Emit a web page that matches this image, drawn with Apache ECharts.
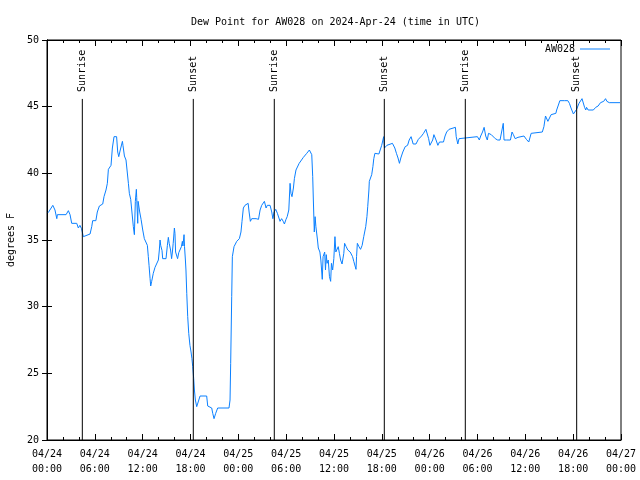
<!DOCTYPE html>
<html>
<head>
<meta charset="utf-8">
<script src="https://cdn.jsdelivr.net/npm/echarts@6/dist/echarts.min.js"></script>
<style>html,body{margin:0;padding:0;background:#fff}#c{width:640px;height:480px}</style>
</head>
<body>
<div id="c"></div>
<script>
// hours since 2024-04-24 00:00 UTC, dew point in degrees F
const dewPoint = [
[0.15,37.05],[0.73,37.6],[1.0,37.25],[1.23,36.6],[1.3,36.9],[2.39,36.9],[2.68,37.2],[2.89,36.9],[3.1,36.25],[3.73,36.25],[3.93,35.9],[4.13,36.1],[4.33,35.85],[4.56,35.25],[4.77,35.4],[5.4,35.45],[5.61,36.0],[5.73,36.45],[6.13,36.45],[6.31,37.1],[6.57,37.55],[6.99,37.7],[7.15,38.25],[7.4,38.75],[7.57,39.25],[7.7,40.3],[7.83,40.3],[8.03,40.6],[8.2,41.9],[8.41,42.75],[8.73,42.75],[8.87,41.6],[9.0,41.25],[9.13,41.6],[9.46,42.4],[9.53,42.1],[9.71,41.3],[9.91,41.0],[10.08,41.0],[10.21,39.25],[10.33,38.5],[10.5,38.05],[10.71,37.95],[10.83,36.0],[10.96,35.4],[11.08,37.9],[11.21,38.8],[11.25,38.2],[11.38,36.25],[11.43,37.9],[11.63,37.1],[11.8,36.55],[12.01,35.75],[12.21,35.1],[12.43,35.0],[12.59,34.6],[12.71,33.75],[12.8,33.1],[12.93,32.1],[13.01,31.55],[13.13,31.9],[13.33,32.5],[13.55,32.95],[13.73,33.0],[13.97,33.5],[14.09,34.25],[14.18,35.0],[14.26,34.6],[14.43,34.2],[14.51,33.6],[14.93,33.6],[15.1,34.6],[15.22,35.2],[15.33,34.75],[15.5,34.25],[15.63,33.6],[15.73,34.1],[15.83,34.75],[15.98,35.9],[16.05,35.5],[16.13,34.1],[16.23,34.0],[16.38,33.6],[16.53,34.05],[16.73,34.1],[16.86,34.5],[16.98,34.9],[17.05,34.55],[17.19,35.4],[17.25,34.5],[17.36,33.5],[17.43,32.75],[17.53,31.0],[17.65,29.25],[17.78,28.0],[17.93,27.1],[18.07,26.6],[18.18,26.1],[18.28,25.5],[18.4,24.6],[18.49,23.75],[18.61,23.0],[18.78,22.5],[18.99,22.5],[19.2,23.3],[19.41,23.35],[20.03,23.3],[20.16,22.55],[20.37,22.5],[20.66,22.4],[20.79,22.0],[20.95,21.6],[21.16,22.0],[21.41,22.4],[22.83,22.4],[22.96,23.0],[23.04,25.75],[23.17,30.75],[23.25,33.75],[23.46,34.5],[23.8,34.9],[24.13,35.1],
[24.33,35.6],[24.46,36.4],[24.63,37.4],[24.83,37.6],[25.0,37.5],[25.23,37.75],[25.35,37.1],[25.51,36.4],[25.68,36.6],[25.88,36.75],[26.23,36.6],[26.53,36.55],[26.73,37.25],[26.93,37.6],[27.27,37.9],[27.48,37.4],[27.63,37.6],[27.98,37.6],[28.19,37.1],[28.33,36.6],[28.48,37.1],[28.69,37.3],[28.9,37.0],[29.07,36.9],[29.23,36.4],[29.43,36.6],[29.63,36.4],[29.78,36.2],[29.98,36.55],[30.13,36.75],[30.33,37.25],[30.49,39.25],[30.6,38.5],[30.73,38.25],[30.91,38.9],[31.03,39.6],[31.23,40.25],[31.43,40.3],[31.63,40.75],[31.83,40.8],[32.16,41.2],[32.58,41.5],[32.91,41.75],[33.03,41.8],[33.21,41.4],[33.33,39.75],[33.41,38.0],[33.53,35.6],[33.63,36.75],[33.73,36.0],[33.93,35.0],[34.03,34.4],[34.23,34.1],[34.35,33.5],[34.53,32.05],[34.63,33.75],[34.83,34.1],[34.93,32.75],[35.03,33.9],[35.13,33.25],[35.28,33.5],[35.43,32.25],[35.58,31.9],[35.68,33.25],[35.83,32.75],[35.98,33.6],[36.12,35.25],[36.23,34.1],[36.38,34.1],[36.53,34.5],[36.68,34.0],[36.83,33.5],[37.01,33.2],[37.18,33.2],[37.23,34.0],[37.33,34.75],[37.53,34.5],[37.73,34.25],[38.03,34.1],[38.23,34.05],[38.33,33.75],[38.48,33.4],[38.58,33.25],[38.76,32.8],[38.83,33.75],[38.93,34.75],[39.13,34.5],[39.33,34.3],[39.53,34.6],[39.73,35.25],[39.98,36.0],[40.13,36.75],[40.23,37.5],[40.38,38.75],[40.43,39.4],[40.63,39.5],[40.73,39.9],[40.88,40.5],[40.99,41.1],[41.13,41.5],[41.38,41.45],[41.63,41.45],
[41.78,41.6],[41.98,42.1],[42.08,42.35],[42.23,42.75],[42.33,41.9],[42.53,41.8],[42.63,42.1],[42.88,42.25],[43.33,42.25],[43.63,41.9],[43.83,41.5],[44.03,41.15],[44.21,40.75],[44.38,41.15],[44.63,41.6],[44.93,42.0],[45.23,42.1],[45.43,42.5],[45.67,42.75],[45.93,42.2],[46.28,42.2],[46.58,42.55],[46.78,42.6],[46.98,42.8],[47.23,43.0],[47.53,43.3],[47.65,43.25],[47.87,42.6],[48.03,42.1],[48.23,41.95],[48.38,42.5],[48.53,42.9],[48.68,43.05],[48.8,42.5],[49.03,42.1],[49.23,42.35],[49.73,42.35],[49.93,42.8],[50.13,43.1],[50.43,43.3],[50.63,43.45],[51.23,43.45],[51.33,42.75],[51.53,42.2],[51.68,42.6],[51.83,42.75],[53.99,42.75],[54.23,42.5],[54.4,42.8],[54.63,43.1],[54.83,43.45],[55.03,42.8],[55.23,42.5],[55.38,43.0],[55.53,43.1],[55.73,42.9],[55.93,42.75],[56.23,42.6],[56.53,42.5],[56.83,42.5],[56.98,42.6],[57.23,43.75],[57.33,42.5],[57.63,42.5],[58.13,42.5],[58.33,43.1],[58.5,42.9],[58.73,42.6],[58.93,42.5],[59.08,42.7],[59.23,42.8],[59.83,42.8],[60.13,42.55],[60.43,42.35],[60.55,42.5],[60.73,43.0],[60.93,43.1],[62.13,43.1],[62.33,43.5],[62.53,44.3],[62.65,44.45],[62.83,43.9],[63.03,44.15],[63.23,44.4],[63.35,44.5],[63.83,44.5],[63.93,44.75],[64.19,45.2],[64.33,45.45],[64.53,45.4],[64.93,45.45],[65.33,45.45],[65.53,45.25],[65.73,44.9],[66.03,44.45],[66.23,44.45],[66.43,44.8],[66.6,44.9],[66.73,45.25],[66.9,45.4],[67.11,45.6],[67.25,45.5],[67.43,44.95],[67.58,44.75],[67.68,44.95],[67.88,44.75],[68.53,44.75],[68.83,44.95],[69.13,45.05],[69.43,45.3],[69.68,45.3],[69.83,45.4],[70.06,45.6],[70.23,45.4],[70.53,45.3],[71.88,45.3]
];
const eventNames = ['Sunrise','Sunset','Sunrise','Sunset','Sunrise','Sunset'];
const eventHours = [4.43, 18.35, 28.51, 42.31, 52.47, 66.44];
const eventTop = 45.58;
const seriesName = 'AW028';
const titleText = 'Dew Point for AW028 on 2024-Apr-24 (time in UTC)';
const yName = 'degrees F';

const FONT = '"DejaVu Sans Mono", "Liberation Mono", monospace';
function fmtX(h) {
  const day = 24 + Math.floor(h / 24);
  const hh = Math.round(h % 24);
  return '04/' + String(day).padStart(2,'0') + '\n' + String(hh).padStart(2,'0') + ':00';
}
const eventSeries = eventHours.map((t, i) => ({
  type: 'line', name: eventNames[i], silent: true, animation: false,
  symbol: 'circle', symbolSize: 0, showSymbol: true,
  lineStyle: { color: '#000', width: 1 }, itemStyle: { color: '#000' },
  data: [
    { value: [t, 20] },
    { value: [t, eventTop], label: { show: true, formatter: eventNames[i], rotate: 90, position: 'top', distance: 7,
      align: 'left', verticalAlign: 'middle', color: '#000', fontSize: 10, fontFamily: FONT } }
  ]
}));
const chart = echarts.init(document.getElementById('c'), null, { renderer: 'canvas' });
const xBase = { type: 'value', min: 0, max: 72, interval: 6,
  axisLine: { lineStyle: { color: '#000' } },
  axisTick: { inside: true, length: 6, lineStyle: { color: '#000' } },
  minorTick: { show: true, splitNumber: 3, length: 3, lineStyle: { color: '#000' } },
  splitLine: { show: false } };
const yBase = { type: 'value', min: 20, max: 50, interval: 5,
  axisLine: { show: true, lineStyle: { color: '#000' } },
  axisTick: { show: true, inside: true, length: 5, lineStyle: { color: '#000' } },
  splitLine: { show: false } };
chart.setOption({
  animation: false,
  backgroundColor: '#fff',
  title: { text: titleText, left: 186, top: 12,
    textStyle: { fontFamily: FONT, fontSize: 10, fontWeight: 'normal', color: '#000' } },
  legend: { data: [seriesName], right: 30, top: 44, padding: 0, align: 'right', icon: 'rect',
    itemWidth: 30, itemHeight: 1, itemGap: 5,
    textStyle: { fontFamily: FONT, fontSize: 10, color: '#000' } },
  grid: { left: 47, right: 19, top: 40, bottom: 40, show: true, borderColor: '#000', borderWidth: 1,
    containLabel: false, outerBoundsMode: 'none' },
  xAxis: [
    Object.assign({}, xBase, { position: 'bottom',
      axisLabel: { formatter: fmtX, fontFamily: FONT, fontSize: 10, color: '#000', margin: 7, lineHeight: 15 } }),
    Object.assign({}, xBase, { position: 'top', axisLabel: { show: false } })
  ],
  yAxis: [
    Object.assign({}, yBase, { position: 'left', name: yName, nameLocation: 'middle', nameGap: 31, nameRotate: 90,
      nameTextStyle: { fontFamily: FONT, fontSize: 10, color: '#000' },
      axisLabel: { fontFamily: FONT, fontSize: 10, color: '#000', margin: 8 } }),
    Object.assign({}, yBase, { position: 'right', axisLabel: { show: false } })
  ],
  series: [
    { type: 'line', name: seriesName, data: dewPoint, showSymbol: false, symbol: 'none',
      lineStyle: { color: '#0a80ff', width: 1 }, itemStyle: { color: '#0a80ff' }, z: 3 }
  ].concat(eventSeries)
});
</script>
</body>
</html>
